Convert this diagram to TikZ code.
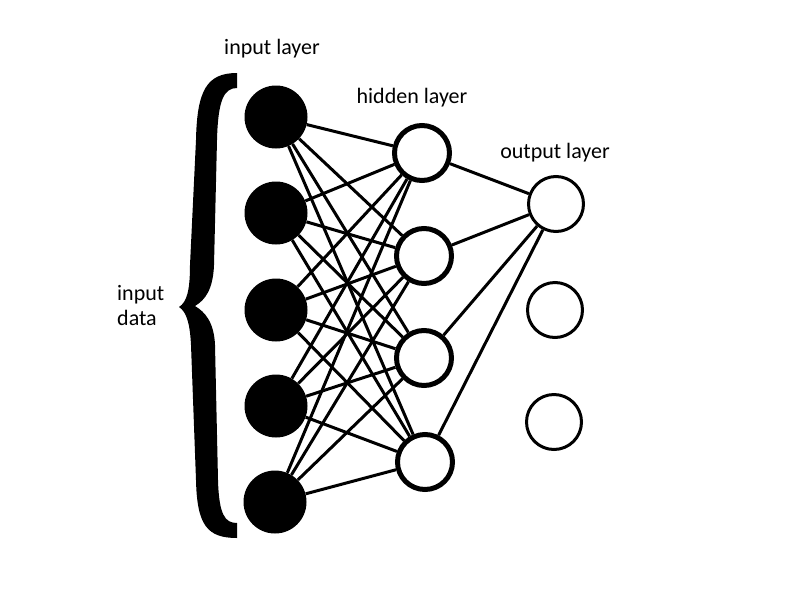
\documentclass[tikz,border=0pt]{standalone}
\usepackage{fontspec}
\setmainfont{Carlito}
\begin{document}
\begin{tikzpicture}[x=1pt,y=-1pt,
 inp/.style={circle,fill=black,minimum size=63pt,inner sep=0pt},
 hid/.style={circle,draw=black,line width=5pt,fill=white,minimum size=55pt,inner sep=0pt},
 outp/.style={circle,draw=black,line width=3pt,fill=white,minimum size=55pt,inner sep=0pt},
 conn/.style={line width=3pt},
 lbl/.style={font=\fontsize{22}{26}\selectfont,inner sep=0pt}]
\useasboundingbox (0,0) rectangle (800,600);
% input layer
\node[inp] (i1) at (276,117) {};
\node[inp] (i2) at (276,213) {};
\node[inp] (i3) at (276,310) {};
\node[inp] (i4) at (276,406) {};
\node[inp] (i5) at (275,502) {};
% hidden layer
\node[hid] (h1) at (422,153) {};
\node[hid] (h2) at (424,256) {};
\node[hid] (h3) at (424,358) {};
\node[hid] (h4) at (425,462) {};
% output layer
\node[outp] (o1) at (556,204) {};
\node[outp] (o2) at (555,310) {};
\node[outp] (o3) at (554,422) {};
% connections
\foreach \i in {1,...,5}{
  \foreach \h in {1,...,4}{
    \draw[conn] (i\i) -- (h\h);
  }
}
\foreach \h in {1,...,4}{
  \draw[conn] (h\h) -- (o1);
}
% labels
\node[lbl] (tin) at (272,49) {input layer};
\node[lbl] (thid) at (412,98) {hidden layer};
\node[lbl] (tout) at (555,153) {output layer};
\node[lbl,anchor=west,align=left] (tdata) at (117,306) {input\\[-1pt]data};
% brace
\fill (237,73) -- (237,88)
  .. controls (224,88) and (218,100) .. (217,140)
  -- (214,265)
  .. controls (213,290) and (205,300) .. (195,306)
  .. controls (205,312) and (214,322) .. (215,345)
  -- (218,480)
  .. controls (219,515) and (225,523) .. (237,523)
  -- (237,538)
  .. controls (207,538) and (197,525) .. (196,480)
  -- (191,345)
  .. controls (190,325) and (187,312) .. (179,307)
  .. controls (187,302) and (190,290) .. (190,265)
  -- (196,140)
  .. controls (197,90) and (207,73) .. (237,73) -- cycle;
\end{tikzpicture}
\end{document}
